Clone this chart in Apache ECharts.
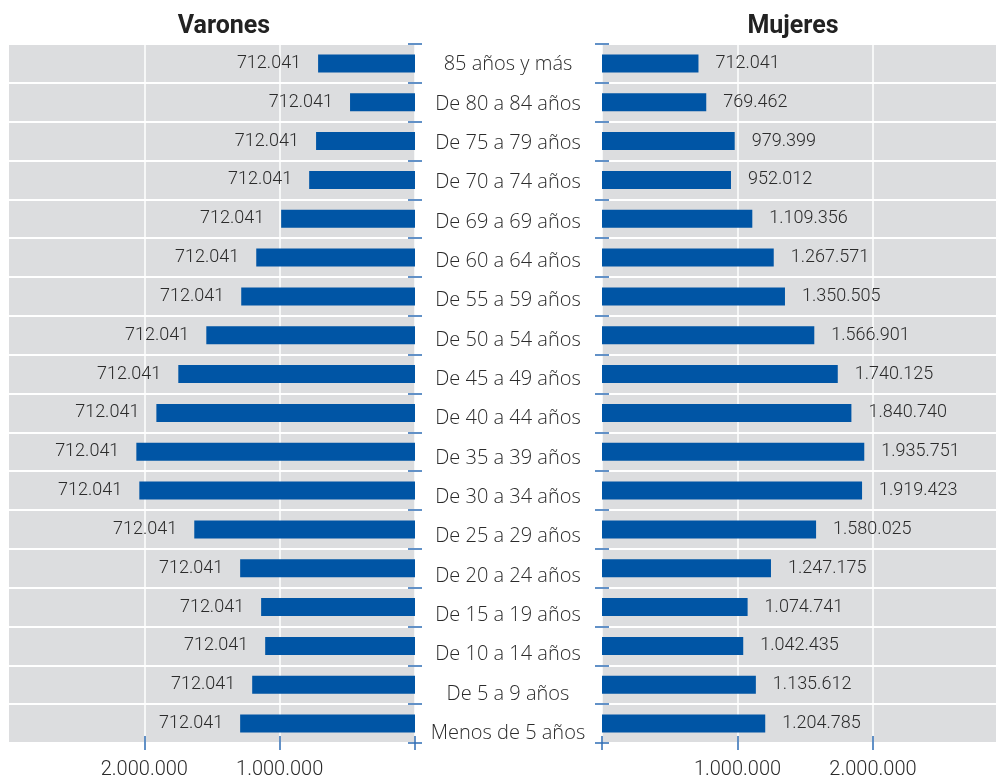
<!DOCTYPE html>
<html lang="es">

<head>
    <meta charset="UTF-8">
    <title>Población por edad y sexo</title>
    <script src="https://cdn.jsdelivr.net/npm/echarts@6/dist/echarts.min.js"></script>
    <style>
        html, body { margin: 0; padding: 0; background: #fff; }
        #main { width: 996px; height: 780px; }
    </style>
</head>

<body>
    <div id="main"></div>
    <script>
        // grupos de edad, de arriba hacia abajo
        var categorias = ['85 años y más', 'De 80 a 84 años', 'De 75 a 79 años', 'De 70 a 74 años',
            'De 69 a 69 años', 'De 60 a 64 años', 'De 55 a 59 años', 'De 50 a 54 años',
            'De 45 a 49 años', 'De 40 a 44 años', 'De 35 a 39 años', 'De 30 a 34 años',
            'De 25 a 29 años', 'De 20 a 24 años', 'De 15 a 19 años', 'De 10 a 14 años',
            'De 5 a 9 años', 'Menos de 5 años'];
        // varones: largo de barra (la etiqueta original repite 712.041)
        var varones = [716000, 480000, 731000, 782000, 989000, 1173000, 1284000, 1542000, 1749000,
            1911000, 2059000, 2037000, 1631000, 1292000, 1137000, 1107000, 1203000, 1292000];
        var etiquetaVarones = '712.041';
        var mujeres = [712041, 769462, 979399, 952012, 1109356, 1267571, 1350505, 1566901, 1740125,
            1840740, 1935751, 1919423, 1580025, 1247175, 1074741, 1042435, 1135612, 1204785];
        var ticksX = [0, 1000000, 2000000];
        var etiquetasX = [1000000, 2000000];

        var azul = '#0055a5';
        var azulTick = '#2f6db5';
        var gris = '#dcdddf';
        var texto = '#2b2b2b';
        var fuente = 'Roboto';
        var fuenteCat = '"Open Sans"';

        function fmt(v) {
            return String(v).replace(/\B(?=(\d{3})+(?!\d))/g, '.');
        }

        // el eje se corre 7px hacia adentro y el tick de 14px lo cruza
        function ejeValor(grid, inverso, maximo) {
            return {
                type: 'value', gridIndex: grid, min: 0, max: maximo, interval: 1000000,
                inverse: inverso, position: 'bottom', offset: -7,
                axisLine: { show: false },
                axisTick: {
                    show: true, length: 14, customValues: ticksX,
                    lineStyle: { color: azulTick, width: 1.5 }
                },
                axisLabel: {
                    customValues: etiquetasX, margin: 24, formatter: fmt,
                    fontFamily: fuente, fontWeight: 300, fontSize: 20, color: texto
                },
                splitLine: { show: true, lineStyle: { color: '#fff', width: 1.5 } }
            };
        }

        function ejeCategoria(grid, pos) {
            return {
                type: 'category', gridIndex: grid, data: categorias, inverse: true, position: pos,
                offset: -7,
                axisLine: { show: false },
                axisTick: { show: true, length: 14, lineStyle: { color: azulTick, width: 1.5 } },
                axisLabel: { show: false },
                splitLine: { show: true, lineStyle: { color: '#fff', width: 2 } }
            };
        }

        var myChart = echarts.init(document.getElementById('main'));

        var option = {
            animation: false,
            title: [{
                text: 'Varones', left: 219, top: 9, textAlign: 'center',
                textStyle: { fontFamily: fuente, fontWeight: 'bold', fontSize: 25, color: '#222' }
            }, {
                text: 'Mujeres', left: 788, top: 9, textAlign: 'center',
                textStyle: { fontFamily: fuente, fontWeight: 'bold', fontSize: 25, color: '#222' }
            }],
            grid: [
                { left: 9, top: 44, width: 406, height: 700, show: true, backgroundColor: gris, borderWidth: 0 },
                { left: 602, top: 44, width: 394, height: 700, show: true, backgroundColor: gris, borderWidth: 0 },
                // rejilla auxiliar solo para los rotulos centrales
                { left: 508, top: 45, width: 1, height: 708 }
            ],
            xAxis: [
                ejeValor(0, true, 3000000),
                ejeValor(1, false, 2908000),
                { type: 'value', gridIndex: 2, min: 0, max: 1, show: false }
            ],
            yAxis: [
                ejeCategoria(0, 'right'),
                ejeCategoria(1, 'left'),
                {
                    type: 'category', gridIndex: 2, data: categorias, inverse: true, position: 'left',
                    axisLine: { show: false }, axisTick: { show: false }, splitLine: { show: false },
                    axisLabel: {
                        margin: 0, align: 'center', fontFamily: fuenteCat, fontWeight: 300,
                        fontSize: 20, color: texto
                    }
                }
            ],
            series: [{
                name: 'Varones', type: 'bar', xAxisIndex: 0, yAxisIndex: 0,
                data: varones, barWidth: 18, itemStyle: { color: azul },
                label: {
                    show: true, position: 'left', distance: 17,
                    formatter: function () { return etiquetaVarones; },
                    fontFamily: fuente, fontWeight: 300, fontSize: 18, color: texto
                }
            }, {
                name: 'Mujeres', type: 'bar', xAxisIndex: 1, yAxisIndex: 1,
                data: mujeres, barWidth: 18, itemStyle: { color: azul },
                label: {
                    show: true, position: 'right', distance: 17,
                    formatter: function (p) { return fmt(p.value); },
                    fontFamily: fuente, fontWeight: 300, fontSize: 18, color: texto
                }
            }]
        };

        myChart.setOption(option);
    </script>
</body>

</html>
